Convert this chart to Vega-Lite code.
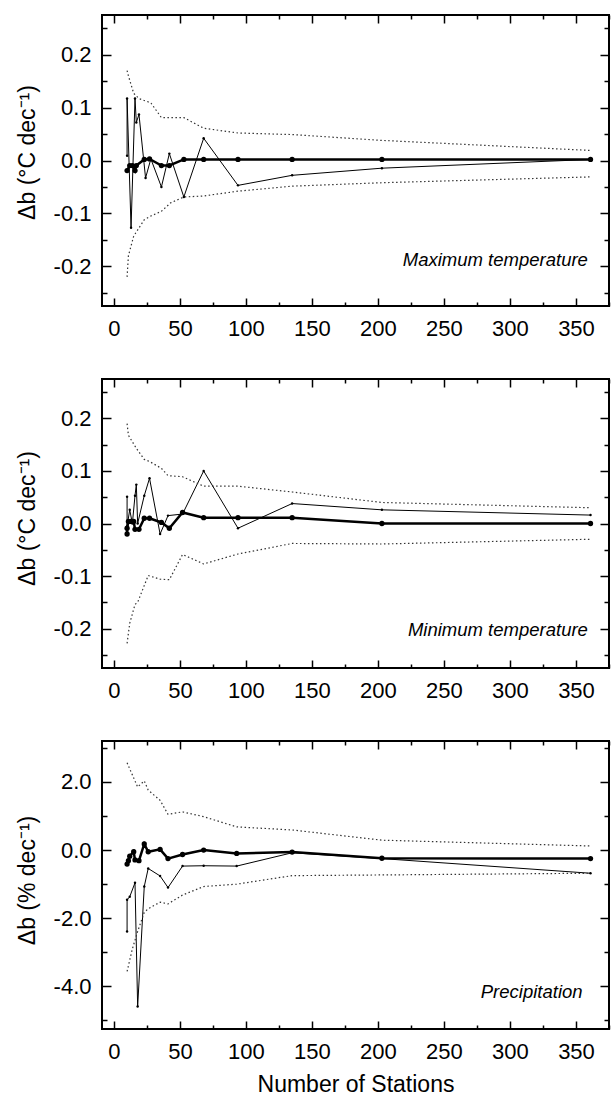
{
  "$schema": "https://vega.github.io/schema/vega-lite/v6.json",
  "background": "white",
  "padding": {"left": 15, "top": 13, "right": 0, "bottom": 0},
  "config": {
    "font": "Liberation Sans",
    "view": {"stroke": "#000", "strokeWidth": 2},
    "axis": {"grid": false, "domain": false, "tickColor": "#000", "tickWidth": 1.5, "labelColor": "#000", "labelFontSize": 22, "labelFont": "Liberation Sans", "titleColor": "#000", "titleFontSize": 23, "titleFont": "Liberation Sans", "titleFontWeight": "normal", "labelFlush": false},
    "concat": {"spacing": 37}
  },
  "datasets": {
    "pts": [
      {"p":"max","s":"A","i":1,"n":10,"v":-0.019},{"p":"max","s":"A","i":2,"n":12,"v":-0.0095},{"p":"max","s":"A","i":3,"n":14,"v":-0.0095},{"p":"max","s":"A","i":4,"n":16,"v":-0.019},{"p":"max","s":"A","i":5,"n":17,"v":-0.0095},{"p":"max","s":"A","i":6,"n":23,"v":0.002},{"p":"max","s":"A","i":7,"n":27,"v":0.003},{"p":"max","s":"A","i":8,"n":36,"v":-0.0095},{"p":"max","s":"A","i":9,"n":42,"v":-0.0095},{"p":"max","s":"A","i":10,"n":53,"v":0.002},{"p":"max","s":"A","i":11,"n":68,"v":0.002},{"p":"max","s":"A","i":12,"n":94,"v":0.002},{"p":"max","s":"A","i":13,"n":135,"v":0.002},{"p":"max","s":"A","i":14,"n":203,"v":0.002},{"p":"max","s":"A","i":15,"n":361,"v":0.002},
      {"p":"max","s":"B","i":16,"n":10,"v":0.009},{"p":"max","s":"B","i":17,"n":10,"v":0.117},{"p":"max","s":"B","i":18,"n":13,"v":-0.127},{"p":"max","s":"B","i":19,"n":16,"v":0.117},{"p":"max","s":"B","i":20,"n":17,"v":0.072},{"p":"max","s":"B","i":21,"n":19,"v":0.087},{"p":"max","s":"B","i":22,"n":24,"v":-0.033},{"p":"max","s":"B","i":23,"n":28,"v":0.003},{"p":"max","s":"B","i":24,"n":36,"v":-0.05},{"p":"max","s":"B","i":25,"n":42,"v":0.013},{"p":"max","s":"B","i":26,"n":53,"v":-0.069},{"p":"max","s":"B","i":27,"n":68,"v":0.042},{"p":"max","s":"B","i":28,"n":94,"v":-0.047},{"p":"max","s":"B","i":29,"n":135,"v":-0.028},{"p":"max","s":"B","i":30,"n":203,"v":-0.0145},{"p":"max","s":"B","i":31,"n":361,"v":0.002},
      {"p":"max","s":"U","i":32,"n":10,"v":0.17},{"p":"max","s":"U","i":33,"n":11,"v":0.16},{"p":"max","s":"U","i":34,"n":15,"v":0.127},{"p":"max","s":"U","i":35,"n":19,"v":0.117},{"p":"max","s":"U","i":36,"n":28,"v":0.109},{"p":"max","s":"U","i":37,"n":36,"v":0.081},{"p":"max","s":"U","i":38,"n":53,"v":0.081},{"p":"max","s":"U","i":39,"n":68,"v":0.061},{"p":"max","s":"U","i":40,"n":94,"v":0.052},{"p":"max","s":"U","i":41,"n":135,"v":0.049},{"p":"max","s":"U","i":42,"n":203,"v":0.038},{"p":"max","s":"U","i":43,"n":361,"v":0.019},
      {"p":"max","s":"L","i":44,"n":10,"v":-0.22},{"p":"max","s":"L","i":45,"n":11,"v":-0.18},{"p":"max","s":"L","i":46,"n":15,"v":-0.143},{"p":"max","s":"L","i":47,"n":23,"v":-0.112},{"p":"max","s":"L","i":48,"n":28,"v":-0.105},{"p":"max","s":"L","i":49,"n":36,"v":-0.096},{"p":"max","s":"L","i":50,"n":43,"v":-0.08},{"p":"max","s":"L","i":51,"n":53,"v":-0.069},{"p":"max","s":"L","i":52,"n":68,"v":-0.067},{"p":"max","s":"L","i":53,"n":94,"v":-0.058},{"p":"max","s":"L","i":54,"n":135,"v":-0.0485},{"p":"max","s":"L","i":55,"n":203,"v":-0.042},{"p":"max","s":"L","i":56,"n":361,"v":-0.031},

      {"p":"min","s":"A","i":101,"n":10,"v":-0.02},{"p":"min","s":"A","i":102,"n":10,"v":-0.009},{"p":"min","s":"A","i":103,"n":11,"v":0.004},{"p":"min","s":"A","i":104,"n":13,"v":0.004},{"p":"min","s":"A","i":105,"n":15,"v":0.004},{"p":"min","s":"A","i":106,"n":16,"v":-0.011},{"p":"min","s":"A","i":107,"n":19,"v":-0.011},{"p":"min","s":"A","i":108,"n":23,"v":0.01},{"p":"min","s":"A","i":109,"n":27,"v":0.01},{"p":"min","s":"A","i":110,"n":36,"v":0.002},{"p":"min","s":"A","i":111,"n":42,"v":-0.009},{"p":"min","s":"A","i":112,"n":52,"v":0.021},{"p":"min","s":"A","i":113,"n":68,"v":0.011},{"p":"min","s":"A","i":114,"n":94,"v":0.011},{"p":"min","s":"A","i":115,"n":135,"v":0.011},{"p":"min","s":"A","i":116,"n":203,"v":0.0},{"p":"min","s":"A","i":117,"n":361,"v":0.0},
      {"p":"min","s":"B","i":118,"n":10,"v":0.051},{"p":"min","s":"B","i":119,"n":10,"v":-0.005},{"p":"min","s":"B","i":120,"n":12,"v":0.026},{"p":"min","s":"B","i":121,"n":14,"v":0.0},{"p":"min","s":"B","i":122,"n":16,"v":0.053},{"p":"min","s":"B","i":123,"n":17,"v":0.074},{"p":"min","s":"B","i":124,"n":18,"v":0.0},{"p":"min","s":"B","i":125,"n":23,"v":0.053},{"p":"min","s":"B","i":126,"n":27,"v":0.086},{"p":"min","s":"B","i":127,"n":35,"v":-0.02},{"p":"min","s":"B","i":128,"n":41,"v":0.015},{"p":"min","s":"B","i":129,"n":52,"v":0.018},{"p":"min","s":"B","i":130,"n":68,"v":0.1},{"p":"min","s":"B","i":131,"n":94,"v":-0.009},{"p":"min","s":"B","i":132,"n":135,"v":0.038},{"p":"min","s":"B","i":133,"n":203,"v":0.026},{"p":"min","s":"B","i":134,"n":361,"v":0.016},
      {"p":"min","s":"U","i":135,"n":10,"v":0.19},{"p":"min","s":"U","i":136,"n":11,"v":0.168},{"p":"min","s":"U","i":137,"n":17,"v":0.143},{"p":"min","s":"U","i":138,"n":23,"v":0.122},{"p":"min","s":"U","i":139,"n":27,"v":0.118},{"p":"min","s":"U","i":140,"n":36,"v":0.105},{"p":"min","s":"U","i":141,"n":41,"v":0.091},{"p":"min","s":"U","i":142,"n":52,"v":0.089},{"p":"min","s":"U","i":143,"n":68,"v":0.071},{"p":"min","s":"U","i":144,"n":94,"v":0.071},{"p":"min","s":"U","i":145,"n":135,"v":0.06},{"p":"min","s":"U","i":146,"n":203,"v":0.04},{"p":"min","s":"U","i":147,"n":361,"v":0.03},
      {"p":"min","s":"L","i":148,"n":10,"v":-0.228},{"p":"min","s":"L","i":149,"n":12,"v":-0.19},{"p":"min","s":"L","i":150,"n":16,"v":-0.154},{"p":"min","s":"L","i":151,"n":18,"v":-0.15},{"p":"min","s":"L","i":152,"n":26,"v":-0.099},{"p":"min","s":"L","i":153,"n":35,"v":-0.106},{"p":"min","s":"L","i":154,"n":42,"v":-0.107},{"p":"min","s":"L","i":155,"n":52,"v":-0.059},{"p":"min","s":"L","i":156,"n":68,"v":-0.077},{"p":"min","s":"L","i":157,"n":94,"v":-0.058},{"p":"min","s":"L","i":158,"n":135,"v":-0.038},{"p":"min","s":"L","i":159,"n":203,"v":-0.039},{"p":"min","s":"L","i":160,"n":361,"v":-0.03},

      {"p":"pre","s":"A","i":201,"n":10,"v":-0.41},{"p":"pre","s":"A","i":202,"n":11,"v":-0.31},{"p":"pre","s":"A","i":203,"n":12,"v":-0.18},{"p":"pre","s":"A","i":204,"n":15,"v":-0.05},{"p":"pre","s":"A","i":205,"n":16,"v":-0.29},{"p":"pre","s":"A","i":206,"n":19,"v":-0.31},{"p":"pre","s":"A","i":207,"n":23,"v":0.18},{"p":"pre","s":"A","i":208,"n":26,"v":-0.05},{"p":"pre","s":"A","i":209,"n":35,"v":0.02},{"p":"pre","s":"A","i":210,"n":41,"v":-0.25},{"p":"pre","s":"A","i":211,"n":52,"v":-0.13},{"p":"pre","s":"A","i":212,"n":68,"v":0.0},{"p":"pre","s":"A","i":213,"n":93,"v":-0.1},{"p":"pre","s":"A","i":214,"n":135,"v":-0.06},{"p":"pre","s":"A","i":215,"n":203,"v":-0.24},{"p":"pre","s":"A","i":216,"n":361,"v":-0.25},
      {"p":"pre","s":"B","i":217,"n":10,"v":-2.39},{"p":"pre","s":"B","i":218,"n":10,"v":-1.46},{"p":"pre","s":"B","i":219,"n":12,"v":-1.37},{"p":"pre","s":"B","i":220,"n":16,"v":-0.96},{"p":"pre","s":"B","i":221,"n":18,"v":-4.59},{"p":"pre","s":"B","i":222,"n":23,"v":-1.07},{"p":"pre","s":"B","i":223,"n":26,"v":-0.54},{"p":"pre","s":"B","i":224,"n":35,"v":-0.76},{"p":"pre","s":"B","i":225,"n":41,"v":-1.1},{"p":"pre","s":"B","i":226,"n":52,"v":-0.47},{"p":"pre","s":"B","i":227,"n":68,"v":-0.46},{"p":"pre","s":"B","i":228,"n":93,"v":-0.47},{"p":"pre","s":"B","i":229,"n":135,"v":-0.08},{"p":"pre","s":"B","i":230,"n":203,"v":-0.25},{"p":"pre","s":"B","i":231,"n":361,"v":-0.68},
      {"p":"pre","s":"U","i":232,"n":10,"v":2.56},{"p":"pre","s":"U","i":233,"n":18,"v":1.85},{"p":"pre","s":"U","i":234,"n":23,"v":2.03},{"p":"pre","s":"U","i":235,"n":26,"v":1.76},{"p":"pre","s":"U","i":236,"n":35,"v":1.46},{"p":"pre","s":"U","i":237,"n":41,"v":1.05},{"p":"pre","s":"U","i":238,"n":52,"v":1.12},{"p":"pre","s":"U","i":239,"n":68,"v":0.98},{"p":"pre","s":"U","i":240,"n":93,"v":0.68},{"p":"pre","s":"U","i":241,"n":135,"v":0.59},{"p":"pre","s":"U","i":242,"n":203,"v":0.29},{"p":"pre","s":"U","i":243,"n":361,"v":0.12},
      {"p":"pre","s":"L","i":244,"n":10,"v":-3.56},{"p":"pre","s":"L","i":245,"n":14,"v":-2.9},{"p":"pre","s":"L","i":246,"n":18,"v":-2.39},{"p":"pre","s":"L","i":247,"n":23,"v":-1.83},{"p":"pre","s":"L","i":248,"n":26,"v":-1.72},{"p":"pre","s":"L","i":249,"n":35,"v":-1.53},{"p":"pre","s":"L","i":250,"n":41,"v":-1.58},{"p":"pre","s":"L","i":251,"n":52,"v":-1.32},{"p":"pre","s":"L","i":252,"n":68,"v":-1.07},{"p":"pre","s":"L","i":253,"n":93,"v":-1.0},{"p":"pre","s":"L","i":254,"n":135,"v":-0.75},{"p":"pre","s":"L","i":255,"n":203,"v":-0.73},{"p":"pre","s":"L","i":256,"n":361,"v":-0.68}
    ],
    "labels": [
      {"p":"max","t":"Maximum temperature"},
      {"p":"min","t":"Minimum temperature"},
      {"p":"pre","t":"Precipitation"}
    ]
  },
  "vconcat": [
    {
      "width": 507, "height": 291,
      "data": {"name": "pts"},
      "resolve": {"axis": {"x": "independent", "y": "independent"}},
      "layer": [
        {
          "transform": [{"filter": "datum.p === 'max' && datum.s === 'A'"}],
          "mark": {"type": "line", "color": "#000", "strokeWidth": 2.5},
          "encoding": {
            "x": {"field": "n", "type": "quantitative", "scale": {"domain": [-9, 375], "nice": false, "zero": false}, "axis": {"orient": "bottom", "values": [0, 50, 100, 150, 200, 250, 300, 350], "tickSize": -8, "labelPadding": 20, "format": "d", "title": null}},
            "y": {"field": "v", "type": "quantitative", "scale": {"domain": [-0.275, 0.275], "nice": false, "zero": false}, "axis": {"orient": "left", "values": [-0.2, -0.1, 0, 0.1, 0.2], "tickSize": -9, "labelPadding": 20, "labelExpr": "(datum.value < 0 ? '-' : '') + format(abs(datum.value), '.1f')", "title": "Δb (°C dec⁻¹)", "titlePadding": 14, "titleY": 137}},
            "order": {"field": "i"}
          }
        },
        {
          "transform": [{"filter": "datum.p === 'max' && datum.s === 'B'"}],
          "mark": {"type": "line", "color": "#000", "strokeWidth": 1},
          "encoding": {
            "x": {"field": "n", "type": "quantitative", "axis": {"orient": "top", "values": [0, 50, 100, 150, 200, 250, 300, 350], "tickSize": -8, "labels": false, "title": null}},
            "y": {"field": "v", "type": "quantitative", "axis": {"orient": "right", "values": [-0.2, -0.1, 0, 0.1, 0.2], "tickSize": -9, "labels": false, "title": null}},
            "order": {"field": "i"}
          }
        },
        {
          "transform": [{"filter": "datum.p === 'max' && (datum.s === 'U' || datum.s === 'L')"}],
          "mark": {"type": "line", "color": "#333", "strokeWidth": 1.2, "strokeDash": [1.5, 2.5]},
          "encoding": {
            "x": {"field": "n", "type": "quantitative", "axis": {"orient": "bottom", "values": [25, 75, 125, 175, 225, 275, 325, 375], "tickSize": -4, "labels": false, "title": null}},
            "y": {"field": "v", "type": "quantitative", "axis": {"orient": "left", "values": [-0.25, -0.15, -0.05, 0.05, 0.15, 0.25], "tickSize": -5, "labels": false, "title": null}},
            "detail": {"field": "s"},
            "order": {"field": "i"}
          }
        },
        {
          "transform": [{"filter": "datum.p === 'max' && datum.s === 'A'"}],
          "mark": {"type": "point", "filled": true, "color": "#000", "opacity": 1, "size": 28},
          "encoding": {
            "x": {"field": "n", "type": "quantitative", "axis": {"orient": "top", "values": [25, 75, 125, 175, 225, 275, 325, 375], "tickSize": -4, "labels": false, "title": null}},
            "y": {"field": "v", "type": "quantitative", "axis": {"orient": "right", "values": [-0.25, -0.15, -0.05, 0.05, 0.15, 0.25], "tickSize": -5, "labels": false, "title": null}}
          }
        },
        {
          "transform": [{"filter": "datum.p === 'max' && datum.s === 'B'"}],
          "mark": {"type": "point", "filled": true, "color": "#000", "opacity": 1, "size": 6},
          "encoding": {
            "x": {"field": "n", "type": "quantitative", "axis": null},
            "y": {"field": "v", "type": "quantitative", "axis": null}
          }
        },
        {
          "data": {"name": "labels"},
          "transform": [{"filter": "datum.p === 'max'"}],
          "mark": {"type": "text", "align": "right", "baseline": "alphabetic", "fontStyle": "italic", "fontSize": 18.5, "color": "#000"},
          "encoding": {
            "x": {"datum": 359, "type": "quantitative", "axis": null},
            "y": {"datum": -0.2, "type": "quantitative", "axis": null},
            "text": {"field": "t"}
          }
        }
      ]
    },
    {
      "width": 507, "height": 289,
      "data": {"name": "pts"},
      "resolve": {"axis": {"x": "independent", "y": "independent"}},
      "layer": [
        {
          "transform": [{"filter": "datum.p === 'min' && datum.s === 'A'"}],
          "mark": {"type": "line", "color": "#000", "strokeWidth": 2.5},
          "encoding": {
            "x": {"field": "n", "type": "quantitative", "scale": {"domain": [-9, 375], "nice": false, "zero": false}, "axis": {"orient": "bottom", "values": [0, 50, 100, 150, 200, 250, 300, 350], "tickSize": -8, "labelPadding": 20, "format": "d", "title": null}},
            "y": {"field": "v", "type": "quantitative", "scale": {"domain": [-0.275, 0.275], "nice": false, "zero": false}, "axis": {"orient": "left", "values": [-0.2, -0.1, 0, 0.1, 0.2], "tickSize": -9, "labelPadding": 20, "labelExpr": "(datum.value < 0 ? '-' : '') + format(abs(datum.value), '.1f')", "title": "Δb (°C dec⁻¹)", "titlePadding": 14, "titleY": 139}},
            "order": {"field": "i"}
          }
        },
        {
          "transform": [{"filter": "datum.p === 'min' && datum.s === 'B'"}],
          "mark": {"type": "line", "color": "#000", "strokeWidth": 1},
          "encoding": {
            "x": {"field": "n", "type": "quantitative", "axis": {"orient": "top", "values": [0, 50, 100, 150, 200, 250, 300, 350], "tickSize": -8, "labels": false, "title": null}},
            "y": {"field": "v", "type": "quantitative", "axis": {"orient": "right", "values": [-0.2, -0.1, 0, 0.1, 0.2], "tickSize": -9, "labels": false, "title": null}},
            "order": {"field": "i"}
          }
        },
        {
          "transform": [{"filter": "datum.p === 'min' && (datum.s === 'U' || datum.s === 'L')"}],
          "mark": {"type": "line", "color": "#333", "strokeWidth": 1.2, "strokeDash": [1.5, 2.5]},
          "encoding": {
            "x": {"field": "n", "type": "quantitative", "axis": {"orient": "bottom", "values": [25, 75, 125, 175, 225, 275, 325, 375], "tickSize": -4, "labels": false, "title": null}},
            "y": {"field": "v", "type": "quantitative", "axis": {"orient": "left", "values": [-0.25, -0.15, -0.05, 0.05, 0.15, 0.25], "tickSize": -5, "labels": false, "title": null}},
            "detail": {"field": "s"},
            "order": {"field": "i"}
          }
        },
        {
          "transform": [{"filter": "datum.p === 'min' && datum.s === 'A'"}],
          "mark": {"type": "point", "filled": true, "color": "#000", "opacity": 1, "size": 28},
          "encoding": {
            "x": {"field": "n", "type": "quantitative", "axis": {"orient": "top", "values": [25, 75, 125, 175, 225, 275, 325, 375], "tickSize": -4, "labels": false, "title": null}},
            "y": {"field": "v", "type": "quantitative", "axis": {"orient": "right", "values": [-0.25, -0.15, -0.05, 0.05, 0.15, 0.25], "tickSize": -5, "labels": false, "title": null}}
          }
        },
        {
          "transform": [{"filter": "datum.p === 'min' && datum.s === 'B'"}],
          "mark": {"type": "point", "filled": true, "color": "#000", "opacity": 1, "size": 6},
          "encoding": {
            "x": {"field": "n", "type": "quantitative", "axis": null},
            "y": {"field": "v", "type": "quantitative", "axis": null}
          }
        },
        {
          "data": {"name": "labels"},
          "transform": [{"filter": "datum.p === 'min'"}],
          "mark": {"type": "text", "align": "right", "baseline": "alphabetic", "fontStyle": "italic", "fontSize": 18.5, "color": "#000"},
          "encoding": {
            "x": {"datum": 359, "type": "quantitative", "axis": null},
            "y": {"datum": -0.214, "type": "quantitative", "axis": null},
            "text": {"field": "t"}
          }
        }
      ]
    },
    {
      "width": 507, "height": 288,
      "data": {"name": "pts"},
      "resolve": {"axis": {"x": "independent", "y": "independent"}},
      "layer": [
        {
          "transform": [{"filter": "datum.p === 'pre' && datum.s === 'A'"}],
          "mark": {"type": "line", "color": "#000", "strokeWidth": 2.5},
          "encoding": {
            "x": {"field": "n", "type": "quantitative", "scale": {"domain": [-9, 375], "nice": false, "zero": false}, "axis": {"orient": "bottom", "values": [0, 50, 100, 150, 200, 250, 300, 350], "tickSize": -8, "labelPadding": 20, "format": "d", "title": "Number of Stations", "titlePadding": 11}},
            "y": {"field": "v", "type": "quantitative", "scale": {"domain": [-5.25, 3.2], "nice": false, "zero": false}, "axis": {"orient": "left", "values": [-4, -2, 0, 2], "tickSize": -9, "labelPadding": 20, "labelExpr": "(datum.value < 0 ? '-' : '') + format(abs(datum.value), '.1f')", "title": "Δb (% dec⁻¹)", "titlePadding": 14, "titleY": 139}},
            "order": {"field": "i"}
          }
        },
        {
          "transform": [{"filter": "datum.p === 'pre' && datum.s === 'B'"}],
          "mark": {"type": "line", "color": "#000", "strokeWidth": 1},
          "encoding": {
            "x": {"field": "n", "type": "quantitative", "axis": {"orient": "top", "values": [0, 50, 100, 150, 200, 250, 300, 350], "tickSize": -8, "labels": false, "title": null}},
            "y": {"field": "v", "type": "quantitative", "axis": {"orient": "right", "values": [-4, -2, 0, 2], "tickSize": -9, "labels": false, "title": null}},
            "order": {"field": "i"}
          }
        },
        {
          "transform": [{"filter": "datum.p === 'pre' && (datum.s === 'U' || datum.s === 'L')"}],
          "mark": {"type": "line", "color": "#333", "strokeWidth": 1.2, "strokeDash": [1.5, 2.5]},
          "encoding": {
            "x": {"field": "n", "type": "quantitative", "axis": {"orient": "bottom", "values": [25, 75, 125, 175, 225, 275, 325, 375], "tickSize": -4, "labels": false, "title": null}},
            "y": {"field": "v", "type": "quantitative", "axis": {"orient": "left", "values": [-5, -3, -1, 1, 3], "tickSize": -5, "labels": false, "title": null}},
            "detail": {"field": "s"},
            "order": {"field": "i"}
          }
        },
        {
          "transform": [{"filter": "datum.p === 'pre' && datum.s === 'A'"}],
          "mark": {"type": "point", "filled": true, "color": "#000", "opacity": 1, "size": 28},
          "encoding": {
            "x": {"field": "n", "type": "quantitative", "axis": {"orient": "top", "values": [25, 75, 125, 175, 225, 275, 325, 375], "tickSize": -4, "labels": false, "title": null}},
            "y": {"field": "v", "type": "quantitative", "axis": {"orient": "right", "values": [-5, -3, -1, 1, 3], "tickSize": -5, "labels": false, "title": null}}
          }
        },
        {
          "transform": [{"filter": "datum.p === 'pre' && datum.s === 'B'"}],
          "mark": {"type": "point", "filled": true, "color": "#000", "opacity": 1, "size": 6},
          "encoding": {
            "x": {"field": "n", "type": "quantitative", "axis": null},
            "y": {"field": "v", "type": "quantitative", "axis": null}
          }
        },
        {
          "data": {"name": "labels"},
          "transform": [{"filter": "datum.p === 'pre'"}],
          "mark": {"type": "text", "align": "right", "baseline": "alphabetic", "fontStyle": "italic", "fontSize": 18.5, "color": "#000"},
          "encoding": {
            "x": {"datum": 355, "type": "quantitative", "axis": null},
            "y": {"datum": -4.34, "type": "quantitative", "axis": null},
            "text": {"field": "t"}
          }
        }
      ]
    }
  ]
}
